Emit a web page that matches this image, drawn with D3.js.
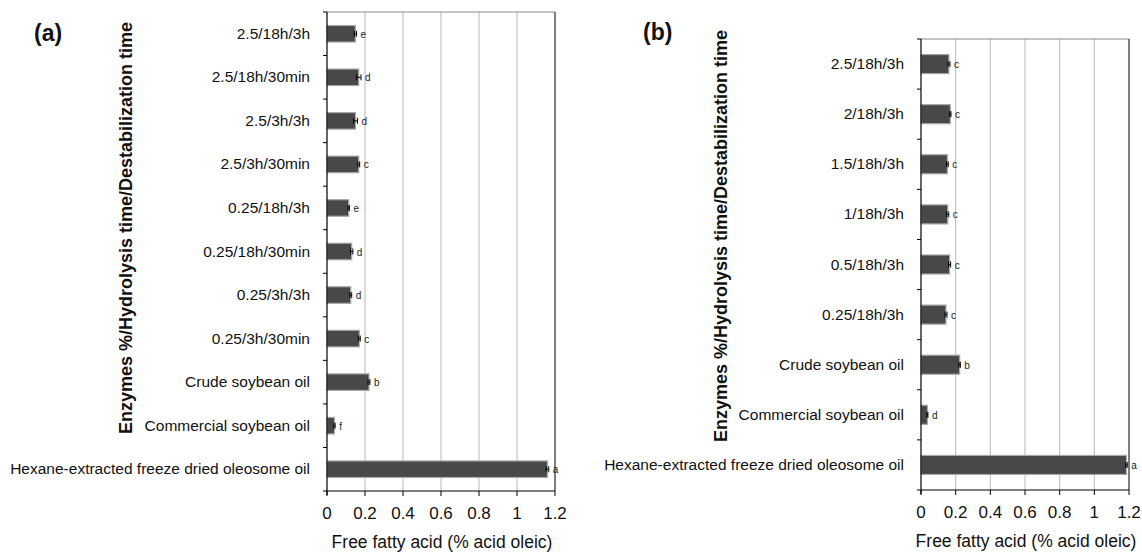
<!DOCTYPE html>
<html>
<head>
<meta charset="utf-8">
<script src="https://cdn.jsdelivr.net/npm/d3@7"></script>
<style>
  body { margin: 0; background: #fff; }
  svg { font-family: "Liberation Sans", Arial, sans-serif; }
</style>
</head>
<body>
<svg id="chart" width="1142" height="553"></svg>
<script>
// panel (a)
const catsA = ["2.5/18h/3h", "2.5/18h/30min", "2.5/3h/3h", "2.5/3h/30min", "0.25/18h/3h",
  "0.25/18h/30min", "0.25/3h/3h", "0.25/3h/30min", "Crude soybean oil",
  "Commercial soybean oil", "Hexane-extracted freeze dried oleosome oil"];
const valsA = [0.149, 0.167, 0.15, 0.167, 0.114, 0.13, 0.125, 0.17, 0.221, 0.039, 1.16];
const errA = [0.006, 0.012, 0.01, 0.005, 0.004, 0.006, 0.005, 0.005, 0.005, 0.004, 0.007];
const lettersA = ["e", "d", "d", "c", "e", "d", "d", "c", "b", "f", "a"];

// panel (b)
const catsB = ["2.5/18h/3h", "2/18h/3h", "1.5/18h/3h", "1/18h/3h", "0.5/18h/3h", "0.25/18h/3h",
  "Crude soybean oil", "Commercial soybean oil", "Hexane-extracted freeze dried oleosome oil"];
const valsB = [0.161, 0.169, 0.152, 0.154, 0.165, 0.144, 0.223, 0.037, 1.185];
const errB = [0.006, 0.004, 0.005, 0.006, 0.006, 0.006, 0.004, 0.003, 0.005];
const lettersB = ["c", "c", "c", "c", "c", "c", "b", "d", "a"];

const xTicks = [0, 0.2, 0.4, 0.6, 0.8, 1, 1.2];

const svg = d3.select("#chart");

function drawPanel(p) {
  const g = svg.append("g");
  const x = d3.scaleLinear().domain([0, 1.2]).range([p.left, p.right]);
  const y = d3.scaleBand().domain(p.cats).range([p.top, p.bottom]).paddingInner(0.62).paddingOuter(0.31);
  const yb = d3.scaleLinear().domain([0, p.cats.length]).range([p.top, p.bottom]);

  // grid
  g.selectAll(".grid").data(xTicks.slice(1, -1)).enter().append("line")
    .attr("x1", d => x(d)).attr("x2", d => x(d))
    .attr("y1", p.top).attr("y2", p.bottom)
    .attr("stroke", "#b8b8b8").attr("stroke-width", 1);

  // frame top + right
  g.append("line").attr("x1", p.left).attr("x2", p.right).attr("y1", p.top).attr("y2", p.top)
    .attr("stroke", "#888").attr("stroke-width", 1);
  g.append("line").attr("x1", p.right).attr("x2", p.right).attr("y1", p.top).attr("y2", p.bottom)
    .attr("stroke", "#555").attr("stroke-width", 1.5);

  // bars
  g.selectAll(".bar").data(p.vals).enter().append("rect")
    .attr("x", x(0))
    .attr("y", (d, i) => y(p.cats[i]))
    .attr("width", d => x(d) - x(0))
    .attr("height", y.bandwidth())
    .attr("fill", "#484848")
    .attr("stroke", "#a8a8a8").attr("stroke-width", 1.2);

  // error bars + letters
  p.vals.forEach((v, i) => {
    const cy = y(p.cats[i]) + y.bandwidth() / 2;
    const e = p.err[i];
    g.append("line").attr("x1", x(v - e)).attr("x2", x(v + e)).attr("y1", cy).attr("y2", cy)
      .attr("stroke", "#000").attr("stroke-width", 1);
    [v - e, v + e].forEach(t => g.append("line").attr("x1", x(t)).attr("x2", x(t))
      .attr("y1", cy - 3).attr("y2", cy + 3).attr("stroke", "#000").attr("stroke-width", 1));
    g.append("text").attr("x", x(v + e) + 4).attr("y", cy + 4)
      .attr("font-size", 10).attr("fill", "#222").text(p.letters[i]);
  });

  // y axis
  g.append("line").attr("x1", p.left).attr("x2", p.left).attr("y1", p.top).attr("y2", p.bottom + 4)
    .attr("stroke", "#000").attr("stroke-width", 1.2);
  g.selectAll(".ytick").data(d3.range(p.cats.length + 1)).enter().append("line")
    .attr("x1", p.left - 4).attr("x2", p.left)
    .attr("y1", d => yb(d)).attr("y2", d => yb(d))
    .attr("stroke", "#000");
  g.selectAll(".ylab").data(p.cats).enter().append("text")
    .attr("x", p.left - 17)
    .attr("y", d => y(d) + y.bandwidth() / 2 + 5)
    .attr("text-anchor", "end").attr("font-size", 15.5).attr("fill", "#111")
    .text(d => d);

  // x axis
  g.append("line").attr("x1", p.left).attr("x2", p.right).attr("y1", p.bottom).attr("y2", p.bottom)
    .attr("stroke", "#000").attr("stroke-width", 1.2);
  g.selectAll(".xtick").data(xTicks).enter().append("line")
    .attr("x1", d => x(d)).attr("x2", d => x(d))
    .attr("y1", p.bottom).attr("y2", p.bottom + 5)
    .attr("stroke", "#000");
  g.selectAll(".xlab").data(xTicks).enter().append("text")
    .attr("x", d => x(d)).attr("y", p.bottom + 28)
    .attr("text-anchor", "middle").attr("font-size", 17).attr("fill", "#111")
    .text(d => d3.format("")(d));

  g.append("text").attr("x", (p.left + p.right) / 2 + 1).attr("y", p.bottom + 57)
    .attr("text-anchor", "middle").attr("font-size", 17.5).attr("fill", "#111")
    .text("Free fatty acid (% acid oleic)");

  g.append("text")
    .attr("transform", `translate(${p.ylabX},${p.ylabY}) rotate(-90)`)
    .attr("text-anchor", "middle").attr("font-size", 18).attr("font-weight", "bold").attr("fill", "#111")
    .text("Enzymes %/Hydrolysis time/Destabilization time");

  g.append("text").attr("x", p.tagX).attr("y", p.tagY)
    .attr("font-size", 23).attr("font-weight", "bold").attr("fill", "#111")
    .text(p.tag);
}

drawPanel({ cats: catsA, vals: valsA, err: errA, letters: lettersA,
  left: 327, right: 555, top: 12, bottom: 491, ylabX: 132, ylabY: 228, tag: "(a)", tagX: 34, tagY: 41 });
drawPanel({ cats: catsB, vals: valsB, err: errB, letters: lettersB,
  left: 921, right: 1129, top: 39, bottom: 490, ylabX: 727, ylabY: 236, tag: "(b)", tagX: 643, tagY: 40 });
</script>
</body>
</html>
